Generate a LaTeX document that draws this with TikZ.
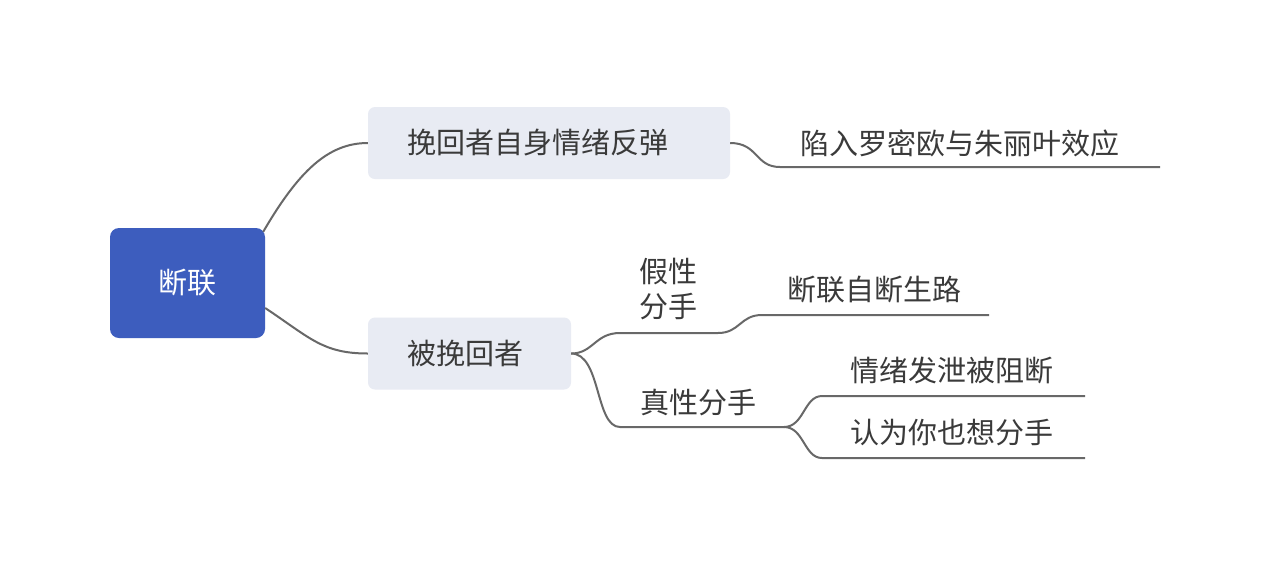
\documentclass[tikz,border=0pt]{standalone}
\usepackage{fontspec}
\setmainfont{Noto Sans CJK SC}
\usepackage{xcolor}
\usetikzlibrary{positioning, calc}
\definecolor{racine}{HTML}{3D5DBE}
\definecolor{fondbox}{HTML}{E8EBF3}
\definecolor{trait}{HTML}{686868}
\definecolor{texte}{HTML}{3A3A3A}
\tikzset{
  racinebox/.style={rectangle, rounded corners=9pt, fill=racine, text=white,
    font=\fontsize{29}{34}\selectfont, minimum width=155pt, minimum height=110pt},
  branche/.style={rectangle, rounded corners=7pt, fill=fondbox, text=texte,
    font=\fontsize{29}{34}\selectfont, minimum height=72pt, inner xsep=39pt,
    align=left},
  feuille/.style={text=texte, font=\fontsize{29}{35}\selectfont, inner sep=0pt,
    align=left},
  lien/.style={draw=trait, line width=2pt}
}

\begin{document}
\begin{tikzpicture}[x=1pt, y=-1pt]
    \useasboundingbox[fill=white] (0,0) rectangle (1269,566);

    % noeud central et branches principales
    \node[racinebox] (racine) at (187.5,283) {断联};
    \node[branche, text width=284pt] (rebond) at (549,143) {挽回者自身情绪反弹};
    \node[branche, text width=125pt] (cible) at (469.5,353.5) {被挽回者};

    % feuilles
    \node[feuille, anchor=west] (effet) at (800,143) {陷入罗密欧与朱丽叶效应};
    \node[feuille] (faux) at (668,289) {假性\\分手};
    \node[feuille, anchor=west] (autocoupe) at (787,290) {断联自断生路};
    \node[feuille, anchor=west] (vrai) at (640,402) {真性分手};
    \node[feuille, anchor=west] (blocage) at (850,370) {情绪发泄被阻断};
    \node[feuille, anchor=west] (accord) at (850,433) {认为你也想分手};

    % points des soulignements
    \coordinate (effetg) at (780,167);
    \coordinate (effetd) at (1160,167);
    \coordinate (fauxg) at (620,333);
    \coordinate (fauxd) at (718,333);
    \coordinate (autog) at (762,315);
    \coordinate (autod) at (989,315);
    \coordinate (vraig) at (620,427);
    \coordinate (vraid) at (784,427);
    \coordinate (blocg) at (822,396);
    \coordinate (blocd) at (1085,396);
    \coordinate (accg) at (822,458);
    \coordinate (accd) at (1085,458);

    \draw[lien] ($(racine.north east)+(-2,4)$) .. controls +(35,-60) and +(-40,0) .. (rebond.west);
    \draw[lien] ($(racine.east)+(0,25)$) .. controls +(45,30) and +(-45,0) .. (cible.west);

    \draw[lien] (rebond.east) .. controls +(28,0) and +(-25,0) .. (effetg) -- (effetd);

    \draw[lien] (cible.east) .. controls +(22,0) and +(-25,0) .. (fauxg) -- (fauxd)
      .. controls +(22,0) and +(-22,0) .. (autog) -- (autod);
    \draw[lien] (cible.east) .. controls +(30,0) and +(-25,0) .. (vraig) -- (vraid);
    \draw[lien] (vraid) .. controls +(20,0) and +(-18,0) .. (blocg) -- (blocd);
    \draw[lien] (vraid) .. controls +(20,0) and +(-18,0) .. (accg) -- (accd);
\end{tikzpicture}
\end{document}
